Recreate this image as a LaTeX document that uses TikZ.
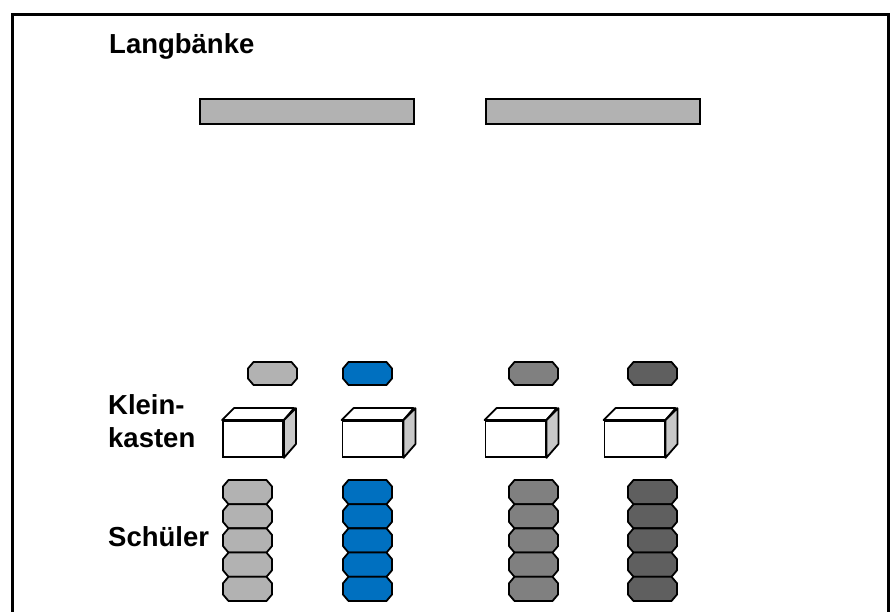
\documentclass[tikz,border=0pt]{standalone}
\usepackage{fontspec}
\setmainfont{Liberation Sans}

\definecolor{benchgray}{HTML}{B2B2B2}
\definecolor{grpA}{HTML}{B2B2B2}
\definecolor{grpB}{HTML}{0070C0}
\definecolor{grpC}{HTML}{808080}
\definecolor{grpD}{HTML}{5F5F5F}
\definecolor{boxside}{HTML}{C8C8C8}

\tikzset{
  label text/.style={anchor=base west, inner sep=0pt, font=\fontsize{27.5}{33}\selectfont\bfseries},
  bench/.style={draw=black, line width=1.6pt, fill=benchgray},
  octo/.style={rectangle, minimum width=49pt, minimum height=23pt, inner sep=0pt, outer sep=0pt},
  pupil/.style={octo, minimum height=24.2pt},
  octline/.style={draw=black, line width=1.8pt, line join=round},
  boxfront/.style={rectangle, draw=black, line width=1.8pt, fill=white, minimum width=60pt,
    minimum height=36pt, inner sep=0pt},
  boxface/.style={draw=black, line width=1.8pt, line join=round},
}

% eight-cornered outline round a named rectangular node
\newcommand\octoOutline[2]{%
  \draw[octline, fill=#2]
    ([xshift=5.5pt]#1.north west) -- ([xshift=-5.5pt]#1.north east)
    -- ([yshift=-6.5pt]#1.north east) -- ([yshift=6.5pt]#1.south east)
    -- ([xshift=-5.5pt]#1.south east) -- ([xshift=5.5pt]#1.south west)
    -- ([yshift=6.5pt]#1.south west) -- ([yshift=-6.5pt]#1.north west) -- cycle;}

\begin{document}
\begin{tikzpicture}[x=1pt,y=1pt]
\useasboundingbox (0,0) rectangle (894,612);
\fill[white] (0,0) rectangle (894,612);

% open frame
\draw[line width=2.6pt] (12.5,0) -- (12.5,597.7) -- (888.5,597.7) -- (888.5,0);

% labels
\node[label text] (tLang) at (109,558) {Langbänke};
\node[label text] (tKlein) at (108,197) {Klein-};
\node[label text] (tKasten) at (108,164) {kasten};
\node[label text] (tSchueler) at (108,65) {Schüler};

% benches
\draw[bench] (200,488) rectangle (414,513);
\draw[bench] (486,488) rectangle (700,513);

% single pupils above the boxes
\foreach \c/\x in {A/272.5,B/367.5,C/533.5,D/652.5}{
  \node[octo] (o\c) at (\x,238.5) {};
  \octoOutline{o\c}{grp\c}
}

% small boxes
\foreach \n/\x in {1/253,2/372.5,3/515.5,4/634.5}{
  \node[boxfront] (box\n) at (\x,173) {};
  \draw[boxface, fill=white] (box\n.north west) -- ++(12,12) -- ++(60,0) -- (box\n.north east) -- cycle;
  \draw[boxface, fill=boxside] (box\n.north east) -- ++(12,12) -- ++(0,-36) -- (box\n.south east) -- cycle;
}

% pupil stacks
\foreach \c/\x in {A/247.5,B/367.5,C/533.5,D/652.5}{
  \foreach \i in {0,...,4}{
    \node[pupil] (s\c\i) at (\x,{119.9-24.2*\i}) {};
    \octoOutline{s\c\i}{grp\c}
  }
}
\end{tikzpicture}
\end{document}
